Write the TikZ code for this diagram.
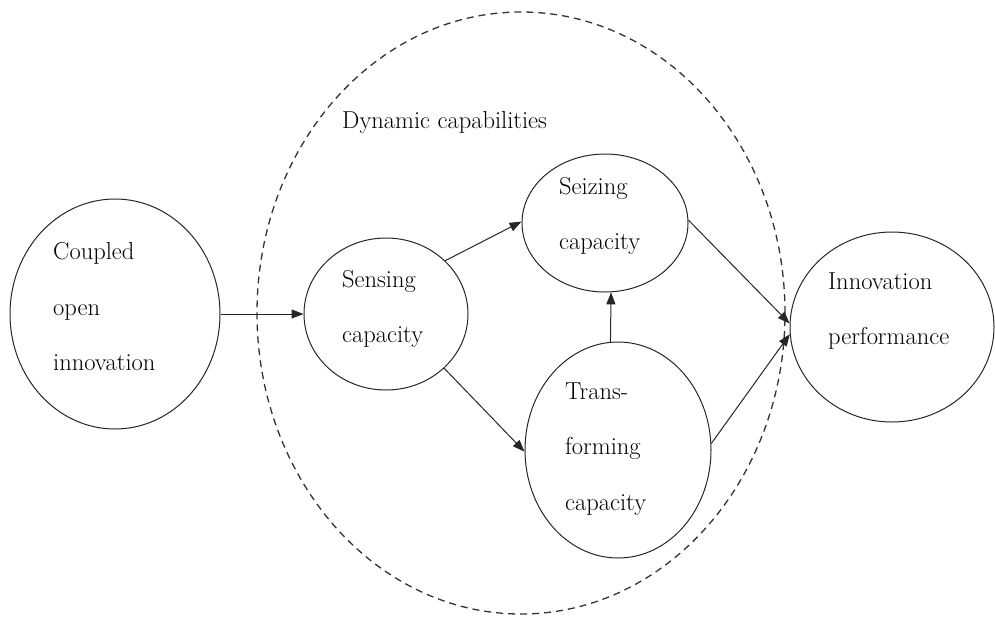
\documentclass[tikz,border=0pt]{standalone}
\usetikzlibrary{shapes.geometric,arrows.meta}
\begin{document}
\begin{tikzpicture}[x=1pt,y=-1pt,
  capnode/.style={ellipse,draw=black!85,line width=1pt,inner sep=0pt},
  lbl/.style={anchor=west,align=left,inner sep=0pt,font=\fontsize{24.5}{55.5}\selectfont},
  arr/.style={draw=black!85,line width=1pt,-{Triangle[length=12pt,width=9pt]}},
  groupnode/.style={ellipse,draw=black!80,line width=1.3pt,dash pattern=on 7pt off 5pt,inner sep=0pt}]
\useasboundingbox (0,0) rectangle (995,619);
% dynamic capabilities group
\node[groupnode,minimum width=528pt,minimum height=602pt] (dyn) at (521,313) {};
\node[lbl] (dyntxt) at (342,122) {Dynamic capabilities};
% ellipses
\node[capnode,minimum width=210pt,minimum height=230pt] (coupled) at (115,314) {};
\node[capnode,minimum width=164pt,minimum height=152pt] (sense) at (386,314) {};
\node[capnode,minimum width=166pt,minimum height=138pt] (seize) at (605,223) {};
\node[capnode,minimum width=186pt,minimum height=216pt] (trans) at (618,450) {};
\node[capnode,minimum width=204pt,minimum height=190pt] (innov) at (892,327) {};
% texts
\node[lbl] (coupledtxt) at (53,307) {Coupled\\open\\innovation};
\node[lbl] (sensetxt) at (342,309) {Sensing\\capacity};
\node[lbl] (seizetxt) at (559,216) {Seizing\\capacity};
\node[lbl] (transtxt) at (565,449) {Trans-\\forming\\capacity};
\node[lbl] (innovtxt) at (828,311) {Innovation\\performance};
% connectors
\draw[arr] (coupled.east) -- (sense.west);
\draw[arr] (sense.42) -- (seize.179);
\draw[arr] (sense.-43) -- (trans.181);
\draw[arr] (trans.94) -- (seize.-85);
\draw[arr] (seize.2) -- (innov.178);
\draw[arr] (trans.4) -- (innov.184);
\end{tikzpicture}
\end{document}
